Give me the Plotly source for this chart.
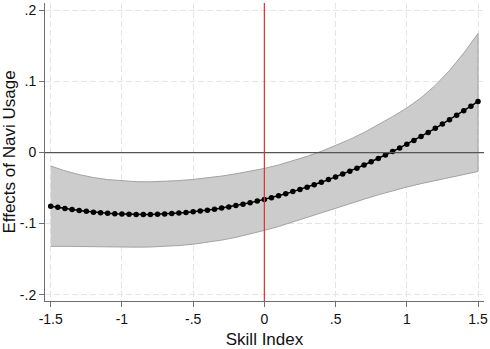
import plotly.graph_objects as go

# Marginal effect of navigation-app usage across the skill index
skill_index = [
    -1.50, -1.45, -1.40, -1.35, -1.30, -1.25, -1.20, -1.15, -1.10, -1.05,
    -1.00, -0.95, -0.90, -0.85, -0.80, -0.75, -0.70, -0.65, -0.60, -0.55,
    -0.50, -0.45, -0.40, -0.35, -0.30, -0.25, -0.20, -0.15, -0.10, -0.05,
    0.00, 0.05, 0.10, 0.15, 0.20, 0.25, 0.30, 0.35, 0.40, 0.45,
    0.50, 0.55, 0.60, 0.65, 0.70, 0.75, 0.80, 0.85, 0.90, 0.95,
    1.00, 1.05, 1.10, 1.15, 1.20, 1.25, 1.30, 1.35, 1.40, 1.45, 1.50,
]
effect = [
    -0.0755, -0.0772, -0.0789, -0.0803, -0.0817, -0.0828, -0.0839, -0.0848, -0.0855, -0.0861,
    -0.0866, -0.0869, -0.0871, -0.0872, -0.0871, -0.0868, -0.0864, -0.0859, -0.0852, -0.0844,
    -0.0834, -0.0823, -0.0811, -0.0797, -0.0782, -0.0765, -0.0747, -0.0727, -0.0706, -0.0684,
    -0.0660, -0.0635, -0.0608, -0.0580, -0.0550, -0.0519, -0.0487, -0.0453, -0.0418, -0.0381,
    -0.0343, -0.0303, -0.0262, -0.0220, -0.0176, -0.0131, -0.0084, -0.0036, 0.0014, 0.0065,
    0.0117, 0.0171, 0.0226, 0.0283, 0.0341, 0.0401, 0.0462, 0.0524, 0.0588, 0.0653, 0.0720,
]

# Confidence interval bounds
ci_x = [
    -1.5, -1.4, -1.3, -1.2, -1.1, -1.0, -0.9, -0.8, -0.7, -0.6, -0.5,
    -0.4, -0.3, -0.2, -0.1, 0.0, 0.1, 0.2, 0.3, 0.4, 0.5,
    0.6, 0.7, 0.8, 0.9, 1.0, 1.1, 1.2, 1.3, 1.4, 1.5,
]
ci_upper = [
    -0.0190, -0.0257, -0.0311, -0.0352, -0.0381, -0.0400, -0.0410, -0.0412, -0.0406, -0.0395, -0.0379,
    -0.0358, -0.0331, -0.0300, -0.0264, -0.0224, -0.0175, -0.0118, -0.0054, 0.0017, 0.0096,
    0.0184, 0.0282, 0.0390, 0.0505, 0.0627, 0.0770, 0.0945, 0.1155, 0.1400, 0.1675,
]
ci_lower = [
    -0.1320, -0.1321, -0.1323, -0.1326, -0.1329, -0.1332, -0.1332, -0.1330, -0.1322, -0.1309, -0.1291,
    -0.1264, -0.1233, -0.1194, -0.1148, -0.1096, -0.1041, -0.0982, -0.0920, -0.0855, -0.0788,
    -0.0722, -0.0657, -0.0595, -0.0538, -0.0486, -0.0438, -0.0393, -0.0350, -0.0308, -0.0267,
]

x_tickvals = [-1.5, -1.0, -0.5, 0.0, 0.5, 1.0, 1.5]
x_ticktext = ["-1.5", "-1", "-.5", "0", ".5", "1", "1.5"]
y_tickvals = [-0.2, -0.1, 0.0, 0.1, 0.2]
y_ticktext = ["-.2", "-.1", "0", ".1", ".2"]

FONT = "Liberation Sans, Arial, sans-serif"
AXIS_GRAY = "#6e6e6e"
GRID = "#e4e4e4"

fig = go.Figure()

# shaded confidence band as a closed polygon
fig.add_trace(go.Scatter(
    x=ci_x + ci_x[::-1],
    y=ci_upper + ci_lower[::-1],
    fill="toself",
    fillcolor="#cccccc",
    line=dict(color="#a3a3a3", width=1),
    mode="lines",
    hoverinfo="skip",
    showlegend=False,
))

# point estimates
fig.add_trace(go.Scatter(
    x=skill_index,
    y=effect,
    mode="lines+markers",
    line=dict(color="black", width=1.5),
    marker=dict(color="black", size=5.5),
    showlegend=False,
))

# reference lines at zero
fig.add_shape(type="line", xref="paper", yref="y", x0=0, x1=1, y0=0, y1=0,
              line=dict(color="#555555", width=1.3), layer="above")
fig.add_shape(type="line", xref="x", yref="paper", x0=0, x1=0, y0=0, y1=1,
              line=dict(color="#d9332e", width=1.2), layer="above")

fig.update_layout(
    width=490,
    height=349,
    margin=dict(l=41, r=5, t=2, b=46),
    paper_bgcolor="white",
    plot_bgcolor="white",
    font=dict(family=FONT, size=14, color="#111111"),
    xaxis=dict(
        range=[-1.54, 1.542],
        tickmode="array", tickvals=x_tickvals, ticktext=x_ticktext,
        showline=True, linecolor=AXIS_GRAY, linewidth=1,
        ticks="outside", ticklen=5, tickcolor=AXIS_GRAY,
        showgrid=True, gridcolor=GRID, griddash="6px,3px", gridwidth=1,
        zeroline=False,
        title=dict(text="Skill Index", standoff=8),
    ),
    yaxis=dict(
        range=[-0.209, 0.2105],
        tickmode="array", tickvals=y_tickvals, ticktext=y_ticktext,
        showline=True, linecolor=AXIS_GRAY, linewidth=1,
        ticks="outside", ticklen=5, tickcolor=AXIS_GRAY,
        showgrid=True, gridcolor=GRID, griddash="6px,3px", gridwidth=1,
        zeroline=False,
        title=dict(text="Effects of Navi Usage", standoff=6),
    ),
)

fig.write_html("out.html")
